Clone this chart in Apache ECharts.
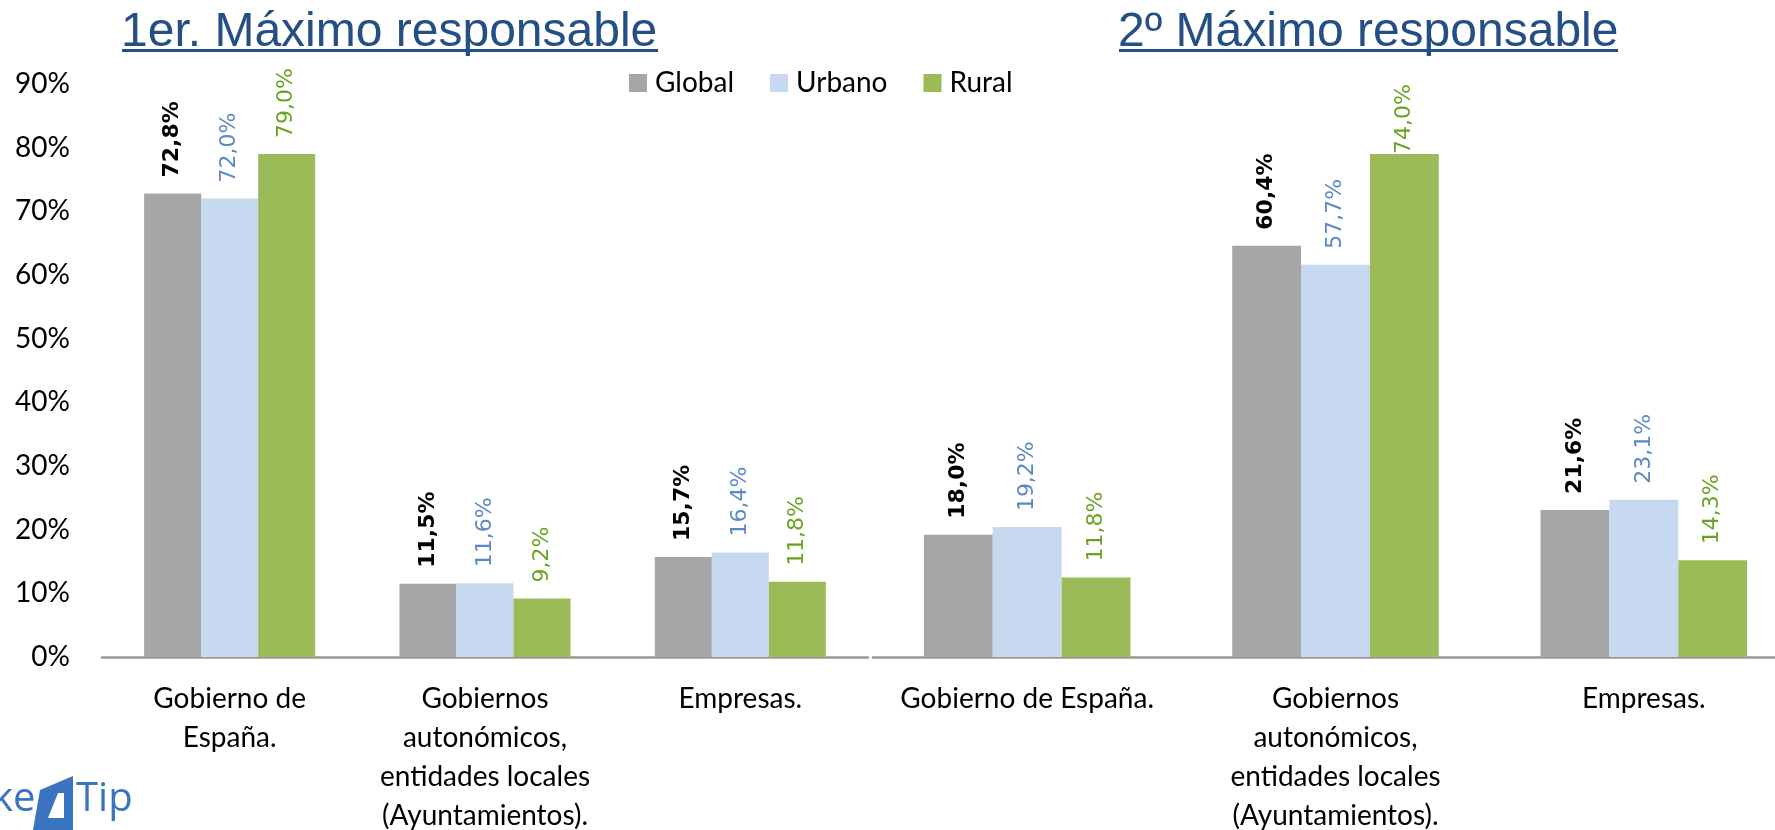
<!DOCTYPE html>
<html><head><meta charset="utf-8">
<script src="https://cdn.jsdelivr.net/npm/echarts@6/dist/echarts.min.js"></script>
<style>html,body{margin:0;padding:0;background:#fff}#c{width:1775px;height:830px}</style>
</head><body><div id="c"></div>
<script>
// ---- data ----
const seriesNames = ['Global', 'Urbano', 'Rural'];
const titles = ['1er. Máximo responsable', '2º Máximo responsable'];
const categories1 = ['Gobierno de\nEspaña.', 'Gobiernos\nautonómicos,\nentidades locales\n(Ayuntamientos).', 'Empresas.'];
const categories2 = ['Gobierno de España.', 'Gobiernos\nautonómicos,\nentidades locales\n(Ayuntamientos).', 'Empresas.'];
// bar heights as drawn (%)
const global1 = [72.8, 11.5, 15.7];
const urbano1 = [72.0, 11.6, 16.4];
const rural1  = [79.0, 9.2, 11.8];
const global2 = [19.2, 64.6, 23.1];
const urbano2 = [20.4, 61.6, 24.7];
const rural2  = [12.5, 79.0, 15.2];
// data label texts as printed
const globalLabels1 = ['72,8%', '11,5%', '15,7%'];
const urbanoLabels1 = ['72,0%', '11,6%', '16,4%'];
const ruralLabels1  = ['79,0%', '9,2%', '11,8%'];
const globalLabels2 = ['18,0%', '60,4%', '21,6%'];
const urbanoLabels2 = ['19,2%', '57,7%', '23,1%'];
const ruralLabels2  = ['11,8%', '74,0%', '14,3%'];
const yMin = 0, yMax = 90, yStep = 10;

// ---- styles ----
const barColors = ['#a6a6a6', '#c6d9f0', '#9bbb59'];
const labelColors = ['#000000', '#5b88c6', '#6aa321'];
const labelWeights = ['bold', 'normal', 'normal'];
const FONT = 'Lato, "Open Sans", sans-serif';
const BLUE = '#234f86';

function mkSeries(name, idx, data, labels, axisIdx, specialDist) {
  return {
    name: name, type: 'bar', xAxisIndex: axisIdx, yAxisIndex: axisIdx,
    data: data.map((v, i) => (specialDist && specialDist[i] !== undefined)
      ? { value: v, label: { distance: specialDist[i] } } : v),
    barGap: '0%', barCategoryGap: '33%',
    itemStyle: { color: barColors[idx] },
    label: {
      show: true, position: 'top', rotate: 90, align: 'left', verticalAlign: 'middle',
      distance: 16, fontFamily: '"DejaVu Sans", Verdana, sans-serif', fontSize: 22,
      color: labelColors[idx], fontWeight: labelWeights[idx],
      formatter: p => labels[p.dataIndex]
    },
    emphasis: { disabled: true }, animation: false
  };
}

const chart = echarts.init(document.getElementById('c'));
const axisLineStyle = { show: true, lineStyle: { color: '#999999', width: 2.5 } };
const option = {
  backgroundColor: '#ffffff',
  animation: false,
  legend: {
    data: seriesNames, left: 624, top: 64, icon: 'rect', itemWidth: 18, itemHeight: 18,
    itemGap: 36, selectedMode: false,
    textStyle: { fontFamily: FONT, fontSize: 28, color: '#000', padding: [0, 0, 0, 3] }
  },
  grid: [
    { left: 102, top: 84, width: 766, height: 573, outerBoundsMode: 'none', containLabel: false },
    { left: 873, top: 84, width: 925, height: 573, outerBoundsMode: 'none', containLabel: false }
  ],
  xAxis: [
    { type: 'category', gridIndex: 0, data: categories1, axisLine: axisLineStyle, axisTick: { show: false },
      axisLabel: { interval: 0, fontFamily: FONT, fontSize: 28, lineHeight: 39, color: '#000', margin: 22 } },
    { type: 'category', gridIndex: 1, data: categories2, axisLine: axisLineStyle, axisTick: { show: false },
      axisLabel: { interval: 0, fontFamily: FONT, fontSize: 28, lineHeight: 39, color: '#000', margin: 22 } }
  ],
  yAxis: [
    { type: 'value', gridIndex: 0, min: yMin, max: yMax, interval: yStep, splitLine: { show: false },
      axisLine: { show: false }, axisTick: { show: false },
      axisLabel: { formatter: '{value}%', fontFamily: FONT, fontSize: 28, color: '#000', margin: 32 } },
    { type: 'value', gridIndex: 1, min: yMin, max: yMax, interval: yStep, show: false, splitLine: { show: false } }
  ],
  series: [
    mkSeries(seriesNames[0], 0, global1, globalLabels1, 0),
    mkSeries(seriesNames[1], 1, urbano1, urbanoLabels1, 0),
    mkSeries(seriesNames[2], 2, rural1, ruralLabels1, 0),
    mkSeries(seriesNames[0], 0, global2, globalLabels2, 1),
    mkSeries(seriesNames[1], 1, urbano2, urbanoLabels2, 1),
    mkSeries(seriesNames[2], 2, rural2, ruralLabels2, 1, { 1: 0 })
  ],
  graphic: [
    { type: 'text', left: 121, top: 9, style: { text: titles[0], font: '48px "Liberation Sans", Arial, sans-serif', fill: BLUE } },
    { type: 'rect', shape: { x: 122, y: 49, width: 536, height: 3 }, style: { fill: BLUE } },
    { type: 'text', left: 1118, top: 9, style: { text: titles[1], font: '48px "Liberation Sans", Arial, sans-serif', fill: BLUE } },
    { type: 'rect', shape: { x: 1119, y: 49, width: 499, height: 3 }, style: { fill: BLUE } },
    // logo fragment bottom-left
    { type: 'text', left: -8, top: 780, style: { text: 'ke', font: '40px "Open Sans", sans-serif', fill: '#3a73bf' } },
    { type: 'polygon', shape: { points: [[40, 790], [73, 776], [73, 830], [33, 830]] }, style: { fill: '#3a73bf' } },
    { type: 'polygon', shape: { points: [[58, 793], [64, 793], [64, 818], [48, 818]] }, style: { fill: '#ffffff' } },
    { type: 'text', left: 76, top: 780, style: { text: 'Tip', font: '40px "Open Sans", sans-serif', fill: '#3a73bf' } }
  ]
};
chart.setOption(option);
</script>
</body></html>
